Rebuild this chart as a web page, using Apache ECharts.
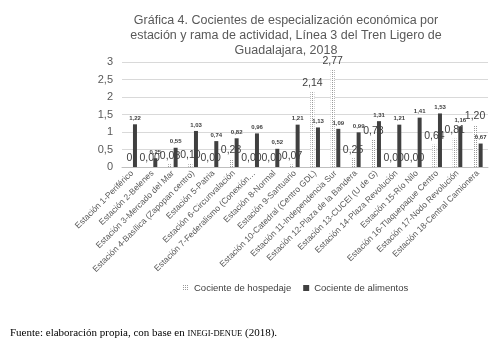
<!DOCTYPE html>
<html>
<head>
<meta charset="utf-8">
<script src="https://cdn.jsdelivr.net/npm/echarts@6/dist/echarts.min.js"></script>
<style>
  html, body { margin: 0; padding: 0; background: #fff; }
  #chart { width: 492px; height: 350px; }
</style>
</head>
<body>
<div id="chart"></div>
<script>
  const estaciones = [
    'Estación 1-Periférico', 'Estación 2-Belenes', 'Estación 3-Mercado del Mar',
    'Estación 4-Basílica (Zapopan centro)', 'Estación 5-Patria', 'Estación 6-Circunvalación',
    'Estación 7-Federalismo (Conexión…', 'Estación 8-Normal', 'Estación 9-Santuario',
    'Estación 10-Catedral (Centro GDL)', 'Estación 11-Independencia Sur', 'Estación 12-Plaza de la Bandera',
    'Estación 13-CUCEI (U de G)', 'Estación 14-Plaza Revolución', 'Estación 15-Río Nilo',
    'Estación 16-Tlaquepaque Centro', 'Estación 17-Nodo Revolución', 'Estación 18-Central Camionera'
  ]
  const hospedaje = [0, 0, 0.08, 0.10, 0, 0.23, 0, 0, 0.07, 2.14, 2.77, 0.25, 0.78, 0, 0, 0.64, 0.81, 1.20]
  const hospedajeEtiquetas = ['0', '0,00', '0,08', '0,10', '0,00', '0,23', '0,00', '0,00', '0,07',
    '2,14', '2,77', '0,25', '0,78', '0,00', '0,00', '0,64', '0,81', '1,20']
  const alimentos = [1.22, 0.25, 0.55, 1.03, 0.74, 0.82, 0.96, 0.52, 1.21, 1.13, 1.09, 0.99, 1.31, 1.21, 1.41, 1.53, 1.16, 0.67]

  // dotted fill for the hospedaje bars
  const pat = document.createElement('canvas')
  pat.width = 2
  pat.height = 2
  const pctx = pat.getContext('2d')
  pctx.fillStyle = '#ffffff'
  pctx.fillRect(0, 0, 2, 2)
  pctx.fillStyle = '#999999'
  pctx.fillRect(0, 0, 1, 1)
  const dotted = { image: pat, repeat: 'repeat' }

  const fmt = v => v.toFixed(2).replace('.', ',')

  const chart = echarts.init(document.getElementById('chart'))
  chart.setOption({
    backgroundColor: '#fff',
    animation: false,
    title: [{
      text: 'Gráfica 4. Cocientes de especialización económica por\nestación y rama de actividad, Línea 3 del Tren Ligero de\nGuadalajara, 2018',
      left: 281,
      top: 8,
      textAlign: 'center',
      textStyle: {
        fontFamily: 'Liberation Sans',
        fontSize: 12.5,
        fontWeight: 'normal',
        color: '#595959',
        lineHeight: 15
      }
    }, {
      text: 'Fuente: elaboración propia, con base en {sc|INEGI-DENUE} (2018).',
      left: 5,
      top: 323,
      textStyle: {
        fontFamily: 'Liberation Serif',
        fontSize: 11,
        fontWeight: 'normal',
        color: '#000',
        rich: {
          sc: { fontFamily: 'Liberation Serif', fontSize: 8.5, color: '#000' }
        }
      }
    }],
    legend: {
      left: 178,
      top: 278,
      itemWidth: 6,
      itemHeight: 6,
      itemGap: 12,
      icon: 'rect',
      textStyle: { fontFamily: 'Liberation Sans', fontSize: 9.5, color: '#404040' },
      data: ['Cociente de hospedaje', 'Cociente de alimentos']
    },
    grid: { left: 122, right: 4, top: 62, bottom: 183 },
    xAxis: {
      type: 'category',
      data: estaciones,
      axisLine: { lineStyle: { color: '#bfbfbf' } },
      axisTick: { show: false },
      axisLabel: {
        rotate: 45,
        interval: 0,
        margin: 5,
        fontFamily: 'Liberation Sans',
        fontSize: 8.5,
        color: '#595959'
      }
    },
    yAxis: {
      type: 'value',
      min: 0,
      max: 3,
      interval: 0.5,
      axisLine: { show: false },
      axisTick: { show: false },
      splitLine: { lineStyle: { color: '#d9d9d9' } },
      axisLabel: {
        margin: 9,
        fontFamily: 'Liberation Sans',
        fontSize: 11,
        color: '#595959',
        formatter: v => String(v).replace('.', ',')
      }
    },
    series: [{
      name: 'Cociente de hospedaje',
      type: 'bar',
      barWidth: 4,
      barGap: '40%',
      itemStyle: { color: dotted },
      label: {
        show: true,
        position: 'top',
        distance: 3,
        fontFamily: 'Liberation Sans',
        fontSize: 10.5,
        color: '#404040',
        formatter: p => hospedajeEtiquetas[p.dataIndex]
      },
      data: hospedaje
    }, {
      name: 'Cociente de alimentos',
      type: 'bar',
      barWidth: 4,
      itemStyle: { color: '#404040' },
      label: {
        show: true,
        position: 'top',
        distance: 3,
        fontFamily: 'Liberation Sans',
        fontSize: 6,
        fontWeight: 'bold',
        color: '#404040',
        formatter: p => fmt(p.value)
      },
      data: alimentos
    }]
  })
</script>
</body>
</html>
